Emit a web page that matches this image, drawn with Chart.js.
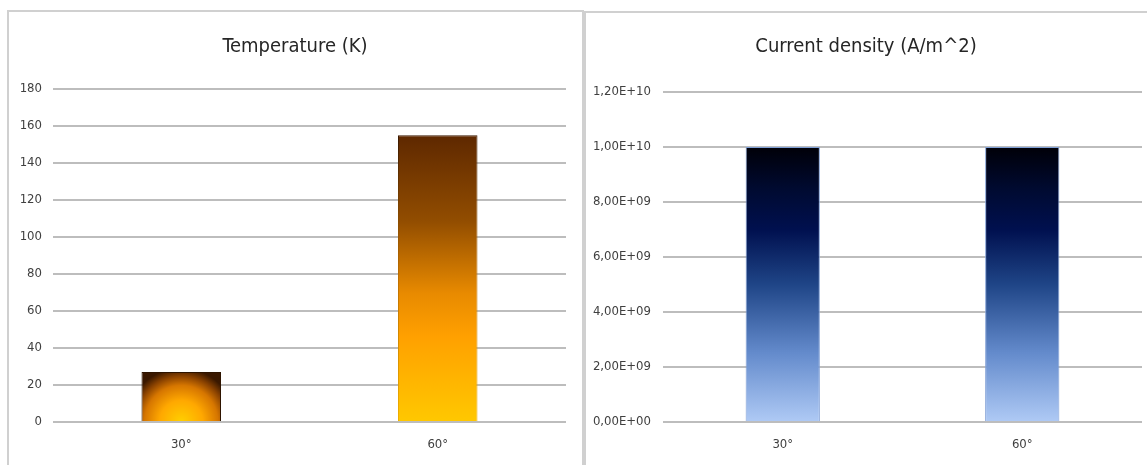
<!DOCTYPE html>
<html>
<head>
<meta charset="utf-8">
<script src="https://cdn.jsdelivr.net/npm/chart.js@4.4.1/dist/chart.umd.min.js"></script>
<style>
  body { margin: 0; background: #fff; width: 1147px; height: 465px; overflow: hidden; position: relative; }
  .panel { position: absolute; border: 2px solid #d0d0d0; box-sizing: border-box; }
  canvas { position: absolute; }
</style>
</head>
<body>
<div class="panel" style="left:7px;top:10px;width:577px;height:480px"></div>
<div class="panel" style="left:584px;top:11px;width:600px;height:480px"></div>
<canvas id="tempChart" width="574" height="454" style="left:8px;top:11px"></canvas>
<canvas id="currentChart" width="562" height="453" style="left:585px;top:12px"></canvas>
<script>
// data
const angles = ["30°", "60°"];
const temperature = [27, 155];
const currentDensity = [1.0e10, 1.0e10];
const tempAxisMax = 180;
const tempAxisStep = 20;
const currentAxisMax = 1.2e10;
const currentAxisStep = 2e9;

const FONT = "'Liberation Sans Narrow', 'DejaVu Sans Condensed', sans-serif";
Chart.defaults.font.family = FONT;
Chart.defaults.color = "#404040";

const BAR_PCT = 0.31;

// pixel box of a bar, taken from the chart scales
const barBox = (ctx) => {
  const chart = ctx.chart;
  const xs = chart.scales.x, ys = chart.scales.y;
  if (!chart.chartArea || !xs || !ys) return null;
  const cx = xs.getPixelForValue(ctx.dataIndex);
  const w = (xs.width / chart.data.labels.length) * BAR_PCT;
  const top = ys.getPixelForValue(ctx.dataset.data[ctx.dataIndex]);
  const base = ys.getPixelForValue(0);
  return { cx, w, top, base };
};

const linear = (ctx, stops, fallback) => {
  const b = barBox(ctx);
  if (!b) return fallback;
  const g = ctx.chart.ctx.createLinearGradient(0, b.top, 0, b.base);
  stops.forEach(([o, c]) => g.addColorStop(o, c));
  return g;
};

const tempFill = (ctx) => {
  if (ctx.dataIndex === 0) {
    const b = barBox(ctx);
    if (!b) return "#ffa000";
    const r = Math.max(b.w / 2, b.base - b.top) * 1.08;
    const g = ctx.chart.ctx.createRadialGradient(b.cx, b.base, 0, b.cx, b.base, r);
    g.addColorStop(0, "#ffd000");
    g.addColorStop(0.4, "#ffa800");
    g.addColorStop(0.68, "#d67600");
    g.addColorStop(0.85, "#8a4200");
    g.addColorStop(1, "#3a1800");
    return g;
  }
  return linear(ctx, [[0, "#5e2800"], [0.3, "#924d00"], [0.55, "#e88a00"], [0.7, "#ffa000"], [1, "#ffc800"]], "#ffa000");
};

const tempBorder = (ctx) => {
  if (ctx.dataIndex === 0) return "#2e1400";
  return linear(ctx, [[0, "#3a1800"], [0.5, "#c07000"], [1, "#f0b000"]], "#c07000");
};

const currentFill = (ctx) =>
  linear(ctx, [[0, "#000008"], [0.15, "#000a30"], [0.3, "#00104f"], [0.5, "#1f4587"], [0.75, "#648bcc"], [1, "#afcaf5"]], "#1f4587");

const sciLabel = (v) => {
  const [m, e] = Number(v).toExponential(2).split("e");
  const sign = e[0] === "-" ? "-" : "+";
  const exp = e.replace(/[+-]/, "").padStart(2, "0");
  return m.replace(".", ",") + "E" + sign + exp;
};

const makeChart = (el, cfg) => new Chart(el, {
  type: "bar",
  data: {
    labels: angles,
    datasets: [{
      data: cfg.values,
      backgroundColor: cfg.fill,
      borderColor: cfg.border,
      borderWidth: 1,
      categoryPercentage: 1,
      barPercentage: BAR_PCT,
    }],
  },
  options: {
    responsive: false,
    animation: false,
    devicePixelRatio: 1,
    layout: { padding: { left: 0, right: 0, top: 0, bottom: 10 } },
    plugins: {
      legend: { display: false },
      tooltip: { enabled: false },
      title: {
        display: true,
        text: cfg.title,
        color: "#262626",
        font: { size: 20, weight: "normal" },
        padding: { top: cfg.titleTop, bottom: cfg.titleBottom },
      },
    },
    scales: {
      x: {
        afterFit: (scale) => { scale.height = 33; },
        grid: { display: false, drawTicks: false },
        border: { display: false },
        ticks: { padding: 15, font: { size: 13 }, color: "#404040" },
      },
      y: {
        min: 0,
        max: cfg.max,
        afterFit: (scale) => { scale.width = cfg.axisWidth; },
        grid: { color: "#bdbdbd", lineWidth: 2, drawTicks: false },
        border: { display: false },
        ticks: {
          stepSize: cfg.step,
          padding: cfg.tickPad,
          font: { size: 13 },
          color: "#404040",
          callback: cfg.format,
        },
      },
      // empty right-hand axis, only keeps a gap after the plot
      gap: {
        position: "right",
        afterFit: (scale) => { scale.width = cfg.rightGap; },
        grid: { display: false, drawTicks: false },
        border: { display: false },
        ticks: { display: false },
      },
    },
  },
});

makeChart(document.getElementById("tempChart"), {
  values: temperature,
  title: "Temperature (K)",
  fill: tempFill,
  border: tempBorder,
  max: tempAxisMax,
  step: tempAxisStep,
  axisWidth: 45,
  rightGap: 16,
  tickPad: 11,
  titleTop: 24,
  titleBottom: 30,
  format: (v) => String(v),
});

makeChart(document.getElementById("currentChart"), {
  values: currentDensity,
  title: "Current density (A/m^2)",
  fill: currentFill,
  border: "#7f9fd6",
  max: currentAxisMax,
  step: currentAxisStep,
  axisWidth: 78,
  rightGap: 5,
  tickPad: 12,
  titleTop: 23,
  titleBottom: 33,
  format: sciLabel,
});
</script>
</body>
</html>
